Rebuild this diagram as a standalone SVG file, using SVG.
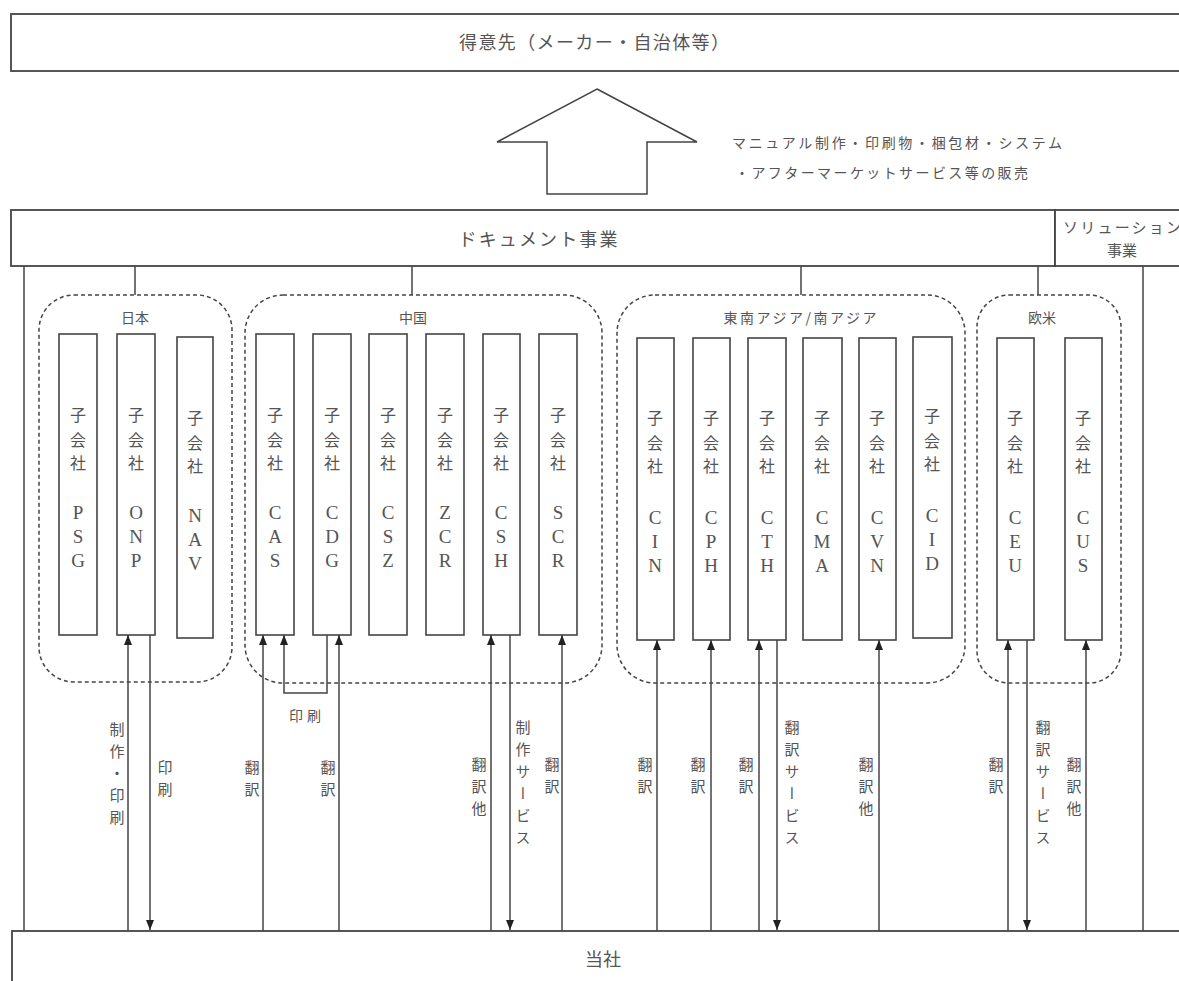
<svg xmlns="http://www.w3.org/2000/svg" width="1179" height="981" viewBox="0 0 1179 981">
<style>
.box{fill:#fff;stroke:#444;stroke-width:1.8}
.sub{fill:#fff;stroke:#444;stroke-width:1.6}
.region{fill:none;stroke:#444;stroke-width:1.5;stroke-dasharray:4 3}
.ln{fill:none;stroke:#444;stroke-width:1.5}
.arr{fill:none;stroke:#444;stroke-width:1.5;marker-end:url(#ah)}
.t{font-family:"Noto Sans CJK JP","Liberation Sans",sans-serif;fill:#555}
.big{font-size:18px;text-anchor:middle}
.reg{font-size:14px;text-anchor:middle}
.kj{font-family:"Noto Sans CJK JP",sans-serif;font-size:16px;fill:#555;text-anchor:middle}
.lt{font-family:"Liberation Serif","Noto Sans CJK JP",serif;font-size:19px;fill:#555;text-anchor:middle}
.vl{font-family:"Noto Sans CJK JP",sans-serif;font-size:15px;fill:#555;writing-mode:vertical-rl;letter-spacing:7px}
.sm{font-family:"Noto Sans CJK JP",sans-serif;font-size:14px;fill:#555}
</style>
<defs>
<marker id="ah" viewBox="0 0 10 8" refX="10" refY="4" markerWidth="10" markerHeight="8" markerUnits="userSpaceOnUse" orient="auto">
<path d="M0,0 L10,4 L0,8 z" fill="#222"/>
</marker>
</defs>

<g id="customer">
<rect class="box" x="11" y="14" width="1180" height="57"/>
<text class="t big" x="594" y="49" textLength="270" lengthAdjust="spacing">得意先（メーカー・自治体等）</text>
</g>

<g id="document-business">
<rect class="box" x="11" y="210" width="1044" height="56"/>
<text class="t big" x="538" y="246" textLength="159" lengthAdjust="spacing">ドキュメント事業</text>
</g>

<g id="solution-business">
<rect class="box" x="1055" y="210" width="140" height="56"/>
<text class="t" font-size="15" text-anchor="middle" x="1122" y="233" textLength="118" lengthAdjust="spacing">ソリューション</text>
<text class="t" font-size="15" text-anchor="middle" x="1122" y="256">事業</text>
</g>

<g id="company">
<rect class="box" x="12" y="931" width="1180" height="60"/>
<text class="t big" x="603" y="966">当社</text>
</g>

<g id="region-japan">
<rect class="region" x="39" y="295" width="193" height="387" rx="35" ry="35"/>
<text class="t reg" x="135" y="323">日本</text>
</g>
<g id="region-china">
<rect class="region" x="245" y="295" width="357" height="388" rx="38" ry="38"/>
<text class="t reg" x="413" y="323">中国</text>
</g>
<g id="region-sea">
<rect class="region" x="617" y="295" width="348" height="388" rx="38" ry="38"/>
<text class="t reg" x="800" y="323" textLength="153" lengthAdjust="spacing">東南アジア/南アジア</text>
</g>
<g id="region-eu">
<rect class="region" x="977" y="295" width="144" height="388" rx="32" ry="32"/>
<text class="t reg" x="1042" y="323">欧米</text>
</g>

<g id="sub-psg"><rect class="sub" x="59" y="334" width="38" height="301"/><text class="kj" x="78 78 78" y="421 446 469">子会社</text><text class="lt" x="78 78 78" y="519 543 567">PSG</text></g>
<g id="sub-onp"><rect class="sub" x="117" y="334" width="38" height="301"/><text class="kj" x="136 136 136" y="421 446 469">子会社</text><text class="lt" x="136 136 136" y="519 543 567">ONP</text></g>
<g id="sub-nav"><rect class="sub" x="177" y="337" width="36" height="301"/><text class="kj" x="195 195 195" y="424 449 472">子会社</text><text class="lt" x="195 195 195" y="522 546 570">NAV</text></g>

<g id="sub-cas"><rect class="sub" x="256" y="334" width="38" height="301"/><text class="kj" x="275 275 275" y="421 446 469">子会社</text><text class="lt" x="275 275 275" y="519 543 567">CAS</text></g>
<g id="sub-cdg"><rect class="sub" x="313" y="334" width="38" height="301"/><text class="kj" x="332 332 332" y="421 446 469">子会社</text><text class="lt" x="332 332 332" y="519 543 567">CDG</text></g>
<g id="sub-csz"><rect class="sub" x="369" y="334" width="38" height="301"/><text class="kj" x="388 388 388" y="421 446 469">子会社</text><text class="lt" x="388 388 388" y="519 543 567">CSZ</text></g>
<g id="sub-zcr"><rect class="sub" x="426" y="334" width="38" height="301"/><text class="kj" x="445 445 445" y="421 446 469">子会社</text><text class="lt" x="445 445 445" y="519 543 567">ZCR</text></g>
<g id="sub-csh"><rect class="sub" x="483" y="334" width="37" height="301"/><text class="kj" x="501 501 501" y="421 446 469">子会社</text><text class="lt" x="501 501 501" y="519 543 567">CSH</text></g>
<g id="sub-scr"><rect class="sub" x="539" y="334" width="38" height="301"/><text class="kj" x="558 558 558" y="421 446 469">子会社</text><text class="lt" x="558 558 558" y="519 543 567">SCR</text></g>

<g id="sub-cin"><rect class="sub" x="637" y="338" width="37" height="302"/><text class="kj" x="655 655 655" y="424 449 472">子会社</text><text class="lt" x="655 655 655" y="524 548 572">CIN</text></g>
<g id="sub-cph"><rect class="sub" x="693" y="338" width="37" height="302"/><text class="kj" x="711 711 711" y="424 449 472">子会社</text><text class="lt" x="711 711 711" y="524 548 572">CPH</text></g>
<g id="sub-cth"><rect class="sub" x="748" y="338" width="38" height="302"/><text class="kj" x="767 767 767" y="424 449 472">子会社</text><text class="lt" x="767 767 767" y="524 548 572">CTH</text></g>
<g id="sub-cma"><rect class="sub" x="803" y="338" width="39" height="302"/><text class="kj" x="822 822 822" y="424 449 472">子会社</text><text class="lt" x="822 822 822" y="524 548 572">CMA</text></g>
<g id="sub-cvn"><rect class="sub" x="859" y="338" width="37" height="302"/><text class="kj" x="877 877 877" y="424 449 472">子会社</text><text class="lt" x="877 877 877" y="524 548 572">CVN</text></g>
<g id="sub-cid"><rect class="sub" x="913" y="337" width="39" height="301"/><text class="kj" x="932 932 932" y="422 447 470">子会社</text><text class="lt" x="932 932 932" y="522 546 570">CID</text></g>

<g id="sub-ceu"><rect class="sub" x="997" y="338" width="37" height="302"/><text class="kj" x="1015 1015 1015" y="424 449 472">子会社</text><text class="lt" x="1015 1015 1015" y="524 548 572">CEU</text></g>
<g id="sub-cus"><rect class="sub" x="1065" y="338" width="37" height="302"/><text class="kj" x="1083 1083 1083" y="424 449 472">子会社</text><text class="lt" x="1083 1083 1083" y="524 548 572">CUS</text></g>

<g id="connectors">
<polygon class="ln" points="597,89 697,142 647,142 647,194 547,194 547,142 497,142"/>
<text class="sm" x="732" y="148" textLength="330" lengthAdjust="spacing">マニュアル制作・印刷物・梱包材・システム</text>
<text class="sm" x="735" y="178" textLength="293" lengthAdjust="spacing">・アフターマーケットサービス等の販売</text>

<line class="ln" x1="135" y1="266" x2="135" y2="295"/>
<line class="ln" x1="412" y1="266" x2="412" y2="295"/>
<line class="ln" x1="801" y1="266" x2="801" y2="295"/>
<line class="ln" x1="1038" y1="266" x2="1038" y2="295"/>
<line class="ln" x1="24" y1="266" x2="24" y2="931"/>
<line class="ln" x1="1143" y1="266" x2="1143" y2="931"/>

<line class="arr" x1="128" y1="931" x2="128" y2="635"/>
<line class="arr" x1="150" y1="635" x2="150" y2="930"/>
<line class="arr" x1="263" y1="931" x2="263" y2="635"/>
<polyline class="arr" points="327,635 327,693 284,693 284,635"/>
<line class="arr" x1="339" y1="931" x2="339" y2="635"/>
<line class="arr" x1="491" y1="931" x2="491" y2="635"/>
<line class="arr" x1="510" y1="635" x2="510" y2="930"/>
<line class="arr" x1="562" y1="931" x2="562" y2="635"/>
<line class="arr" x1="657" y1="931" x2="657" y2="640"/>
<line class="arr" x1="711" y1="931" x2="711" y2="640"/>
<line class="arr" x1="759" y1="931" x2="759" y2="640"/>
<line class="arr" x1="777" y1="640" x2="777" y2="930"/>
<line class="arr" x1="879" y1="931" x2="879" y2="640"/>
<line class="arr" x1="1008" y1="931" x2="1008" y2="640"/>
<line class="arr" x1="1027" y1="640" x2="1027" y2="930"/>
<line class="arr" x1="1086" y1="931" x2="1086" y2="640"/>

<text class="sm" x="289" y="721" font-size="15" textLength="32" lengthAdjust="spacing">印刷</text>
<text class="vl" x="117" y="722">制作・印刷</text>
<text class="vl" x="165" y="760">印刷</text>
<text class="vl" x="252" y="760">翻訳</text>
<text class="vl" x="328" y="760">翻訳</text>
<text class="vl" x="479" y="757">翻訳他</text>
<text class="vl" x="523" y="720">制作サービス</text>
<text class="vl" x="552" y="757">翻訳</text>
<text class="vl" x="645" y="757">翻訳</text>
<text class="vl" x="698" y="757">翻訳</text>
<text class="vl" x="746" y="757">翻訳</text>
<text class="vl" x="792" y="720">翻訳サービス</text>
<text class="vl" x="866" y="757">翻訳他</text>
<text class="vl" x="996" y="757">翻訳</text>
<text class="vl" x="1043" y="720">翻訳サービス</text>
<text class="vl" x="1074" y="757">翻訳他</text>
</g>
</svg>
